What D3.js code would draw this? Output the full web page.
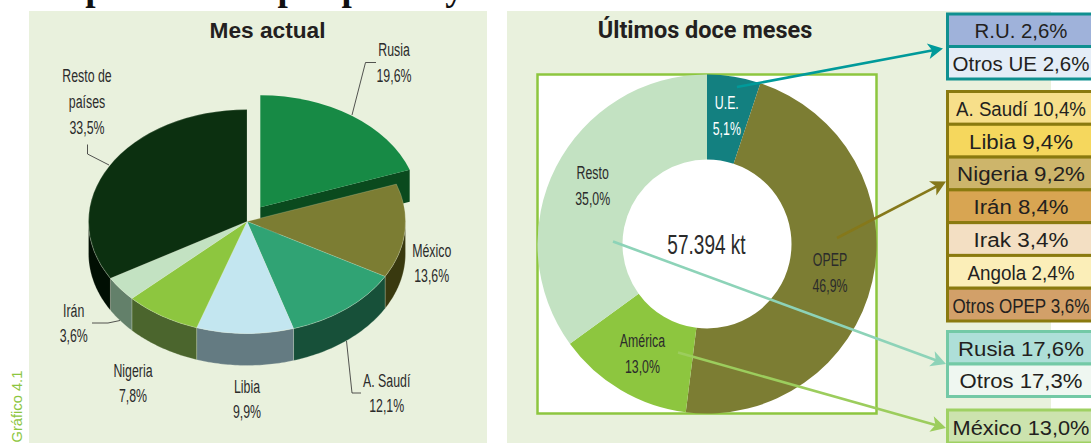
<!DOCTYPE html>
<html>
<head>
<meta charset="utf-8">
<script src="https://cdn.jsdelivr.net/npm/d3@7"></script>
<style>
  html, body { margin: 0; padding: 0; background: #fff; overflow: hidden; }
  svg { display: block; }
  .cond { font-family: "Liberation Sans Narrow", "Liberation Sans"; fill: #2b2b2b; text-anchor: middle; }
  .rowtxt { font-family: "Liberation Sans", "Noto Sans"; fill: #231f20; text-anchor: middle; }
</style>
</head>
<body>
<div id="chart"></div>
<script>
// Mes actual
const pieCats = ['Rusia', 'México', 'A. Saudí', 'Libia', 'Nigeria', 'Irán', 'Resto de países'];
const pieVals = [19.6, 13.6, 12.1, 9.9, 7.8, 3.6, 33.5];
const pieTop = ['#178a45', '#7c7d33', '#30a374', '#c3e6f0', '#8dc63f', '#c3e2c2', '#0c3010'];
const pieSide = ['#0a4a1e', '#39390f', '#175039', '#647b82', '#4b652d', '#63806a', '#010f03'];

// Últimos doce meses
const ringCats = ['U.E.', 'OPEP', 'América', 'Resto'];
const ringVals = [5.1, 46.9, 13.0, 35.0];
const ringColors = ['#138080', '#7c7d33', '#8dc63f', '#c3e2c2'];

// desglose a la derecha
const ueRows = ['R.U.', 'Otros UE'];
const ueVals = [2.6, 2.6];
const ueFills = ['#9fb2da', '#e4edf7'];
const opepRows = ['A. Saudí', 'Libia', 'Nigeria', 'Irán', 'Irak', 'Angola', 'Otros OPEP'];
const opepVals = [10.4, 9.4, 9.2, 8.4, 3.4, 2.4, 3.6];
const opepFills = ['#f7df8a', '#f5d75d', '#cdb56b', '#d8a552', '#f3dfc3', '#fbeeb8', '#d2a069'];
const restoRows = ['Rusia', 'Otros'];
const restoVals = [17.6, 17.3];
const restoFills = ['#aedfd8', '#eff7f1'];
const ameRows = ['México'];
const ameVals = [13.0];
const ameFills = ['#cce3ae'];

const total = '57.394 kt';
const pct = v => v.toFixed(1).replace('.', ',') + '%';

const svg = d3.select('#chart').append('svg').attr('width', 1091).attr('height', 443);

// fondos
svg.append('rect').attr('x', 29).attr('y', 11).attr('width', 458).attr('height', 432).attr('fill', '#e9f1dd');
svg.append('rect').attr('x', 507).attr('y', 11).attr('width', 544).attr('height', 432).attr('fill', '#e9f1dd');

// titulo cortado por arriba
svg.append('text').attr('x', 40).attr('y', 0)
  .attr('font-family', 'Liberation Serif').attr('font-weight', 'bold').attr('font-size', 37)
  .attr('fill', '#111').text('Importaciones por países y áreas 000 t / mes');

svg.append('text').attr('x', 267.5).attr('y', 38).attr('text-anchor', 'middle')
  .attr('font-family', 'Liberation Sans').attr('font-weight', 'bold').attr('font-size', 22.7)
  .attr('fill', '#231f20').text('Mes actual');
svg.append('text').attr('x', 705).attr('y', 38).attr('text-anchor', 'middle')
  .attr('font-family', 'Roboto').attr('font-weight', 'bold').attr('font-size', 23.5)
  .attr('fill', '#231f20').text('Últimos doce meses');

svg.append('text').attr('transform', 'translate(22,442.5) rotate(-90)')
  .attr('font-family', 'Liberation Sans').attr('font-size', 14.7)
  .attr('fill', '#8dc63f').text('Gráfico 4.1');

// texto estrecho
function condLabel(g, x, y, txt, size, sx, color) {
  g.append('text').attr('class', 'cond')
    .attr('transform', `translate(${x},${y}) scale(${sx},1)`)
    .attr('font-size', size)
    .style('fill', color || null)
    .text(txt);
}

/* ---------- tarta 3D ---------- */
const cx = 247, cy = 221.5, rx = 158.5, ry = 112, depth = 32;
const explode = [13.3, -14.3];

const slices = d3.pie().sort(null)(pieVals);
const arc3d = d3.arc().innerRadius(0).outerRadius(rx);
const edgeX = a => rx * Math.sin(a);
const edgeY = a => -ry * Math.cos(a);
const lineGen = d3.line();

function wallPath(a0, a1) {
  const from = Math.max(a0, Math.PI / 2), to = Math.min(a1, 1.5 * Math.PI);
  if (to <= from) return null;
  const steps = d3.range(0, 41).map(i => from + (to - from) * i / 40);
  const up = steps.map(a => [edgeX(a), edgeY(a)]);
  const down = steps.slice().reverse().map(a => [edgeX(a), edgeY(a) + depth]);
  return lineGen(up.concat(down)) + 'Z';
}

const pieG = svg.append('g').attr('transform', `translate(${cx},${cy})`);

// cara cortada de la porcion separada
const rusia = slices[0];
const rusiaG = pieG.append('g').attr('transform', `translate(${explode})`);
rusiaG.append('path')
  .attr('d', lineGen([
    [0, 0],
    [edgeX(rusia.endAngle), edgeY(rusia.endAngle)],
    [edgeX(rusia.endAngle), edgeY(rusia.endAngle) + depth],
    [0, depth]
  ]) + 'Z')
  .attr('fill', pieSide[0]);
rusiaG.append('path')
  .attr('transform', `scale(1,${ry / rx})`)
  .attr('d', arc3d(rusia))
  .attr('fill', pieTop[0]);

// paredes
pieG.selectAll('path.wall')
  .data(slices.slice(1))
  .enter()
  .append('path')
  .attr('class', 'wall')
  .attr('d', d => wallPath(d.startAngle, d.endAngle))
  .attr('fill', d => pieSide[d.index])
  .attr('stroke', '#e9f1dd').attr('stroke-width', 0.4).attr('stroke-opacity', 0.6);

// caras superiores
pieG.append('g').attr('transform', `scale(1,${ry / rx})`)
  .selectAll('path')
  .data(slices.slice(1))
  .enter()
  .append('path')
  .attr('d', arc3d)
  .attr('fill', d => pieTop[d.index])
  .attr('stroke', '#e9f1dd').attr('stroke-width', 0.4).attr('stroke-opacity', 0.6);

// etiquetas de la tarta
const pieLabelPos = {
  'Rusia': [394, 56], 'México': [431.7, 256.7], 'A. Saudí': [386.7, 386.7],
  'Libia': [247, 392.7], 'Nigeria': [133, 376.7], 'Irán': [73.7, 316.7]
};
pieCats.forEach((c, i) => {
  if (i === 6) return;
  const p = pieLabelPos[c];
  condLabel(svg, p[0], p[1], c, 19, 0.65);
  condLabel(svg, p[0], p[1] + 25.7, pct(pieVals[i]), 19, 0.65);
});
condLabel(svg, 87, 82, 'Resto de', 19, 0.65);
condLabel(svg, 87, 108, 'países', 19, 0.65);
condLabel(svg, 87, 133.5, pct(pieVals[6]), 19, 0.65);

// lineas guia
const leaders = [
  [[352, 115], [365.5, 62.5], [376, 62.5]],
  [[109, 165], [87.5, 154], [87.5, 144.5]],
  [[92, 323], [108, 323], [120, 320.5]],
  [[346.5, 341], [352, 393], [361, 393]]
];
svg.selectAll('path.leader').data(leaders).enter().append('path')
  .attr('class', 'leader').attr('d', d => lineGen(d))
  .attr('fill', 'none').attr('stroke', '#2b2b2b').attr('stroke-width', 0.8);

/* ---------- anillo ---------- */
const ringX = 707, ringY = 244, ringR = 169.5;
svg.append('rect').attr('x', 537.5).attr('y', 74.5).attr('width', 339).attr('height', 339)
  .attr('fill', '#fff').attr('stroke', '#8dc63f').attr('stroke-width', 2.5);

const ringG = svg.append('g').attr('transform', `translate(${ringX},${ringY})`);
const ringArc = d3.arc().innerRadius(84.5).outerRadius(ringR);
ringG.selectAll('path')
  .data(d3.pie().sort(null)(ringVals))
  .enter()
  .append('path')
  .attr('d', ringArc)
  .attr('fill', d => ringColors[d.index]);

const ringLabelPos = [[726.8, 108.7, '#fff'], [830, 265.7], [642.4, 347.3], [592.7, 179]];
ringCats.forEach((c, i) => {
  const p = ringLabelPos[i];
  condLabel(svg, p[0], p[1], c, 19, 0.65, p[2]);
  condLabel(svg, p[0], p[1] + 26, pct(ringVals[i]), 19, 0.65, p[2]);
});
condLabel(svg, 706.5, 254, total, 28, 0.68);

/* ---------- cajas ---------- */
function box(y0, y1, rows, vals, fills, border, widths) {
  const yScale = d3.scaleBand().domain(rows).range([y0, y1]);
  const g = svg.append('g');
  g.selectAll('rect').data(rows).enter().append('rect')
    .attr('x', 947.5).attr('y', d => yScale(d))
    .attr('width', 160).attr('height', yScale.bandwidth())
    .attr('fill', (d, i) => fills[i])
    .attr('stroke', border).attr('stroke-width', 3);
  g.selectAll('text').data(rows).enter().append('text')
    .attr('class', 'rowtxt')
    .attr('font-size', 21)
    .text((d, i) => d + ' ' + pct(vals[i]))
    .each(function (d, i) {
      // cada fila tiene su propio ancho en el original
      const sx = widths[i] / this.getComputedTextLength();
      const y = yScale(d) + yScale.bandwidth() / 2 + 8;
      d3.select(this).attr('transform', `translate(1021,${y}) scale(${sx},1)`);
    });
}
box(14, 79, ueRows, ueVals, ueFills, '#0f9090', [93, 137]);
box(91.5, 321, opepRows, opepVals, opepFills, '#8a7a0f', [130, 104, 128, 95, 95, 107, 137]);
box(331.5, 396.5, restoRows, restoVals, restoFills, '#73c9a6', [126, 123]);
box(410, 443, ameRows, ameVals, ameFills, '#9fd163', [137]);

/* ---------- flechas ---------- */
const arrows = [
  { from: [737, 87], to: [943, 48.5], color: '#009a9a' },
  { from: [837, 238], to: [946, 181.5], color: '#85781a' },
  { from: [613, 241.5], to: [946, 364], color: '#8dd3b8' },
  { from: [678, 352.5], to: [946, 428], color: '#9ccd5d' }
];
arrows.forEach(a => {
  const ang = Math.atan2(a.to[1] - a.from[1], a.to[0] - a.from[0]);
  const g = svg.append('g');
  const neck = [a.to[0] - 10 * Math.cos(ang), a.to[1] - 10 * Math.sin(ang)];
  g.append('path').attr('d', lineGen([a.from, neck]))
    .attr('stroke', a.color).attr('stroke-width', 2.6).attr('fill', 'none');
  g.append('path')
    .attr('transform', `translate(${a.to}) rotate(${ang * 180 / Math.PI})`)
    .attr('d', 'M0,0L-15,-8L-11,0L-15,8Z')
    .attr('fill', a.color);
});
</script>
</body>
</html>
